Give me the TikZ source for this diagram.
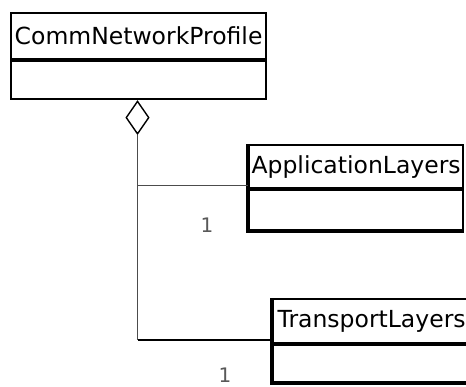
\documentclass[tikz,border=0pt]{standalone}
\usepackage{fontspec}
\setmainfont{DejaVu Sans}
\usetikzlibrary{positioning,shapes.geometric}
\tikzset{
  classname/.style={draw, line width=2.2pt, inner sep=0pt, anchor=north west,
    font=\fontsize{23.5}{26}\selectfont},
  classbody/.style={draw, line width=2.2pt, inner sep=0pt, anchor=north},
  heavyedge/.style={line width=3.6pt, line cap=butt, line join=miter},
  assoc/.style={draw=black!70, line width=1pt},
  mult/.style={text=black!65, font=\fontsize{20}{22}\selectfont, inner sep=0pt}
}
\begin{document}
\begin{tikzpicture}[x=1pt,y=-1pt]
   \useasboundingbox (0,0) rectangle (466,386);
   % classes
   \node[classname, minimum width=255pt, minimum height=46pt] (profile) at (10,12) {CommNetworkProfile};
   \node[classbody, minimum width=255pt, minimum height=38pt] (profilebody) at (profile.south) {};
   \node[classname, minimum width=214pt, minimum height=43pt] (app) at (248,144) {ApplicationLayers};
   \node[classbody, minimum width=214pt, minimum height=40pt] (appbody) at (app.south) {};
   \node[classname, minimum width=197pt, minimum height=44pt] (trans) at (272,298) {TransportLayers};
   \node[classbody, minimum width=197pt, minimum height=37pt] (transbody) at (trans.south) {};
   \draw[heavyedge] (app.north west) -- (appbody.south west) -- (appbody.south east);
   \draw[heavyedge] (trans.north west) -- (transbody.south west) -- (transbody.south east);
   % aggregation
   \node[diamond, draw, line width=1.4pt, inner sep=0pt, minimum width=23pt, minimum height=33pt,
     anchor=north] (agg) at (profilebody.south -| 137.5,0) {};
   \coordinate (corner) at (agg.south |- 0,340);
   \draw[assoc] (agg.south) -- (corner);
   \draw[assoc] (agg.south |- 0,185) -- (app.south west |- 0,185);
   \draw[assoc, draw=black, line width=1.6pt] (corner) -- (trans.south west |- corner);
   \node[mult] (appmult) at (207,225) {1};
   \node[mult] (transmult) at (225,375) {1};
\end{tikzpicture}
\end{document}
